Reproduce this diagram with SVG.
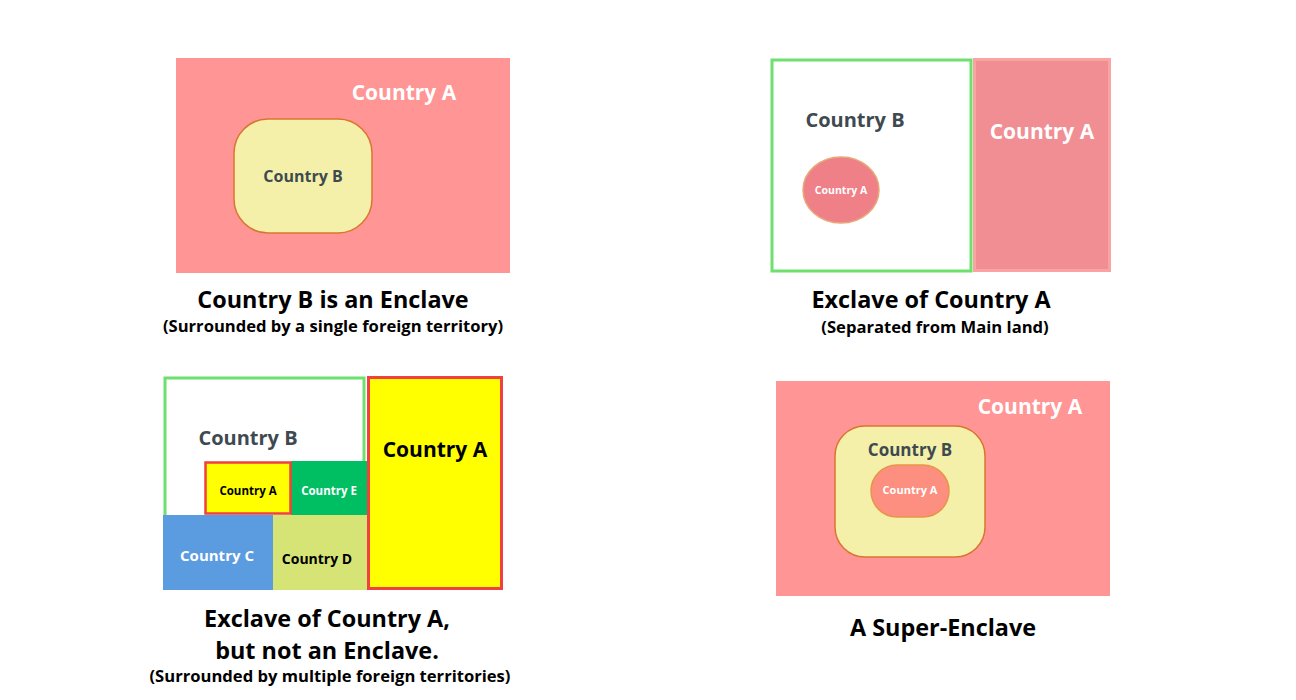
<svg xmlns="http://www.w3.org/2000/svg" width="1296" height="700" viewBox="0 0 1296 700">
<style>
text{font-family:"Open Sans","Liberation Sans",sans-serif;font-weight:bold;text-anchor:middle}
.cap{font-size:23.4px;fill:#000}
.sub{font-size:16.6px;fill:#000}
.w{fill:#fff}
.g{fill:#3e4a50}
.k{fill:#000}
</style>
<rect width="1296" height="700" fill="#fff"/>
<g id="panel1">
<rect x="176" y="58" width="334" height="215" fill="#ff9595"/>
<text class="w" x="404" y="100" font-size="21">Country A</text>
<g id="p1-countryB">
<rect x="234" y="119" width="138" height="114" rx="34" fill="#f4f0a9" stroke="#d9752f" stroke-width="1.5"/>
<text class="g" x="303" y="182" font-size="16">Country B</text>
</g>
<text class="cap" x="333" y="307.5">Country B is an Enclave</text>
<text class="sub" x="333" y="332">(Surrounded by a single foreign territory)</text>
</g>
<g id="panel2">
<rect x="772" y="60" width="199" height="211" fill="#fff" stroke="#6ee06e" stroke-width="3"/>
<rect x="974.5" y="59.5" width="135" height="211" fill="#f08e94" stroke="#f9a3a3" stroke-width="3"/>
<text class="g" x="855" y="127" font-size="20">Country B</text>
<text class="w" x="1042" y="139" font-size="21">Country A</text>
<g id="p2-exclave">
<ellipse cx="841" cy="190" rx="38" ry="33" fill="#ef8088" stroke="#e8a878" stroke-width="1.5"/>
<text class="w" x="841" y="194" font-size="10.5">Country A</text>
</g>
<text class="cap" x="931" y="308">Exclave of Country A</text>
<text class="sub" x="935" y="333">(Separated from Main land)</text>
</g>
<g id="panel3">
<rect x="165" y="378" width="199" height="140" fill="#fff" stroke="#6ee06e" stroke-width="3"/>
<text class="g" x="248" y="445" font-size="20">Country B</text>
<rect x="163" y="515" width="110" height="75" fill="#5b9be0"/>
<text class="w" x="217" y="561" font-size="15">Country C</text>
<rect x="273" y="515" width="94" height="75" fill="#d6e475"/>
<text class="k" x="317" y="564" font-size="14">Country D</text>
<rect x="291" y="461" width="76" height="54" fill="#00bf63"/>
<text class="w" x="329" y="495" font-size="11.5">Country E</text>
<rect x="205.5" y="462.5" width="85" height="51" fill="#ffff00" stroke="#f04040" stroke-width="2.5"/>
<text class="k" x="248" y="495" font-size="11.5">Country A</text>
<rect x="368.5" y="377.5" width="133" height="211" fill="#ffff00" stroke="#f04040" stroke-width="3"/>
<text class="k" x="435" y="457" font-size="21">Country A</text>
<text class="cap" x="327" y="627">Exclave of Country A,<tspan x="327" y="659">but not an Enclave.</tspan><tspan class="sub" x="330" y="682">(Surrounded by multiple foreign territories)</tspan></text>
</g>
<g id="panel4">
<rect x="776" y="381" width="334" height="215" fill="#ff9595"/>
<text class="w" x="1030" y="414" font-size="21">Country A</text>
<rect x="835" y="426" width="150" height="131" rx="30" fill="#f4f0a9" stroke="#d9752f" stroke-width="1.5"/>
<text class="g" x="910" y="456" font-size="17">Country B</text>
<rect x="871" y="465" width="78" height="52" rx="26" fill="#fc8f80" stroke="#e8954a" stroke-width="1.5"/>
<text class="w" x="910" y="494" font-size="11">Country A</text>
<text class="cap" x="943" y="636">A Super-Enclave</text>
</g>
<g id="connectors"/>
</svg>
